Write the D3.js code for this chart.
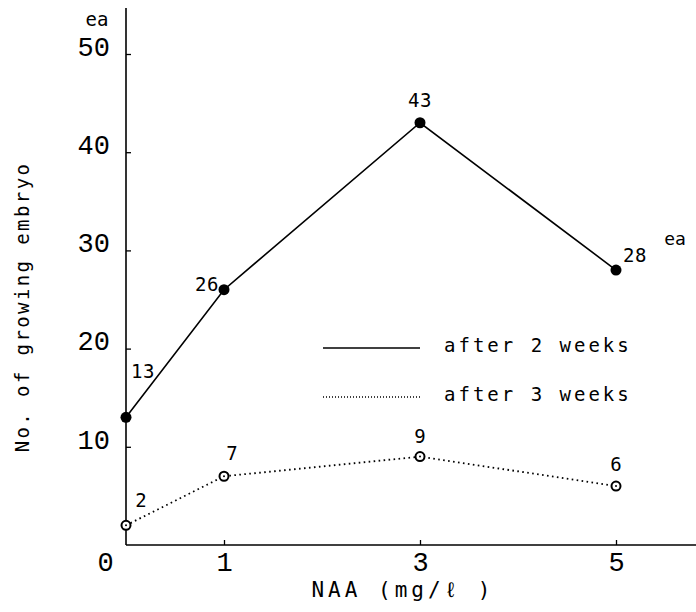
<!DOCTYPE html>
<html>
<head>
  <meta charset="utf-8">
  <script src="https://d3js.org/d3.v7.min.js"></script>
  <style>
    body { margin: 0; background: #fff; }
    svg { font-family: "DejaVu Sans Mono", "Liberation Mono", monospace; }
  </style>
</head>
<body>
  <svg class="chart" width="696" height="612"></svg>
  <script>
    // data
    const NAA          = [0, 1, 3, 5];
    const WEEK2        = [13, 26, 43, 28];
    const WEEK3        = [2, 7, 9, 6];
    const SERIES_NAMES = ["after 2 weeks", "after 3 weeks"];
    const Y_TICKS      = [10, 20, 30, 40, 50];
    const X_TICKS      = [0, 1, 3, 5];

    const X0 = 126, Y0 = 545;

    const svg = d3.select(".chart");

    const xScale = d3.scaleLinear().domain([0, 5]).range([X0, 616]);
    const yScale = d3.scaleLinear().domain([0, 50]).range([Y0, 54]);

    // y axis
    const yAxis = d3.axisLeft(yScale)
      .tickValues(Y_TICKS)
      .tickFormat(d3.format("d"))
      .tickSizeInner(-5).tickSizeOuter(0)
      .tickPadding(16);
    const gy = svg.append("g")
      .attr("transform", `translate(${X0},0)`)
      .call(yAxis);
    gy.select(".domain").attr("d", `M0,${Y0}V8`).attr("stroke-width", 1.6);
    gy.selectAll("line").attr("stroke-width", 1.3);
    gy.selectAll("text")
      .attr("dy", "0.05em")
      .style("font-size", "27px")
      .style("font-family", "Liberation Mono");

    // x axis
    const xAxis = d3.axisBottom(xScale)
      .tickValues(X_TICKS)
      .tickFormat(d3.format("d"))
      .tickSizeInner(-5).tickSizeOuter(0)
      .tickPadding(7);
    const gx = svg.append("g")
      .attr("transform", `translate(0,${Y0})`)
      .call(xAxis);
    gx.select(".domain").attr("d", `M${X0},0H696`).attr("stroke-width", 1.6);
    gx.selectAll("line").attr("stroke-width", 1.3);
    gx.selectAll(".tick").filter(d => d === 0).select("line").remove();
    gx.selectAll(".tick").filter(d => d === 0).select("text").attr("x", -21);
    gx.selectAll("text")
      .style("font-size", "27px")
      .style("font-family", "Liberation Mono");

    // axis titles
    svg.append("text")
      .attr("x", 403).attr("y", 597)
      .attr("text-anchor", "middle")
      .style("font-size", "21px")
      .style("letter-spacing", "4px")
      .text("NAA (mg/ℓ )");

    svg.append("text")
      .attr("transform", "translate(29,307) rotate(-90)")
      .attr("text-anchor", "middle")
      .style("font-size", "19px")
      .style("letter-spacing", "2.4px")
      .text("No. of growing embryo");

    svg.append("text")
      .attr("x", 97).attr("y", 26)
      .attr("text-anchor", "middle")
      .style("font-size", "19px")
      .text("ea");

    // lines
    const line = d3.line().x(d => xScale(d[0])).y(d => yScale(d[1]));
    const pts2 = NAA.map((x, i) => [x, WEEK2[i]]);
    const pts3 = NAA.map((x, i) => [x, WEEK3[i]]);

    svg.append("path").datum(pts2)
      .attr("d", line).attr("fill", "none")
      .attr("stroke", "#000").attr("stroke-width", 1.6);

    svg.append("path").datum(pts3)
      .attr("d", line).attr("fill", "none")
      .attr("stroke", "#000").attr("stroke-width", 1.8)
      .attr("stroke-dasharray", "1.6,3.4");

    // markers
    svg.selectAll(".m2").data(pts2).enter().append("circle")
      .attr("class", "m2")
      .attr("cx", d => xScale(d[0])).attr("cy", d => yScale(d[1]))
      .attr("r", 5.5).attr("fill", "#000");

    svg.selectAll(".m3").data(pts3).enter().append("circle")
      .attr("class", "m3")
      .attr("cx", d => xScale(d[0])).attr("cy", d => yScale(d[1]))
      .attr("r", 4.5).attr("fill", "#fff")
      .attr("stroke", "#000").attr("stroke-width", 2);
    svg.selectAll(".m3c").data(pts3).enter().append("circle")
      .attr("class", "m3c")
      .attr("cx", d => xScale(d[0])).attr("cy", d => yScale(d[1]))
      .attr("r", 1).attr("fill", "#000");

    // value labels
    const LABEL_OFF2 = [[17, -39], [-17, 1], [0, -16], [19, -8]];
    const LABEL_OFF3 = [[15, -18], [8, -16], [0, -14], [0, -15]];
    svg.selectAll(".l2").data(pts2).enter().append("text")
      .attr("class", "l2")
      .attr("x", (d, i) => xScale(d[0]) + LABEL_OFF2[i][0])
      .attr("y", (d, i) => yScale(d[1]) + LABEL_OFF2[i][1])
      .attr("text-anchor", "middle")
      .style("font-size", "19px")
      .style("letter-spacing", "0.5px")
      .text(d => d[1]);
    svg.selectAll(".l3").data(pts3).enter().append("text")
      .attr("class", "l3")
      .attr("x", (d, i) => xScale(d[0]) + LABEL_OFF3[i][0])
      .attr("y", (d, i) => yScale(d[1]) + LABEL_OFF3[i][1])
      .attr("text-anchor", "middle")
      .style("font-size", "19px")
      .text(d => d[1]);

    // "ea" next to last point of the top series
    svg.append("text")
      .attr("x", xScale(5) + 59).attr("y", yScale(28) - 25)
      .attr("text-anchor", "middle")
      .style("font-size", "18px")
      .text("ea");

    // legend
    const legend = svg.selectAll(".legend").data(SERIES_NAMES).enter().append("g")
      .attr("class", "legend")
      .attr("transform", (d, i) => `translate(323, ${348 + i * 49})`);
    legend.append("line")
      .attr("x1", 0).attr("x2", 97)
      .attr("stroke", "#000")
      .attr("stroke-width", (d, i) => i ? 1.3 : 1.6)
      .attr("stroke-dasharray", (d, i) => i ? "1,2" : null);
    legend.append("text")
      .attr("x", 121).attr("y", 4)
      .style("font-size", "19px")
      .style("letter-spacing", "3px")
      .text(d => d);
  </script>
</body>
</html>
